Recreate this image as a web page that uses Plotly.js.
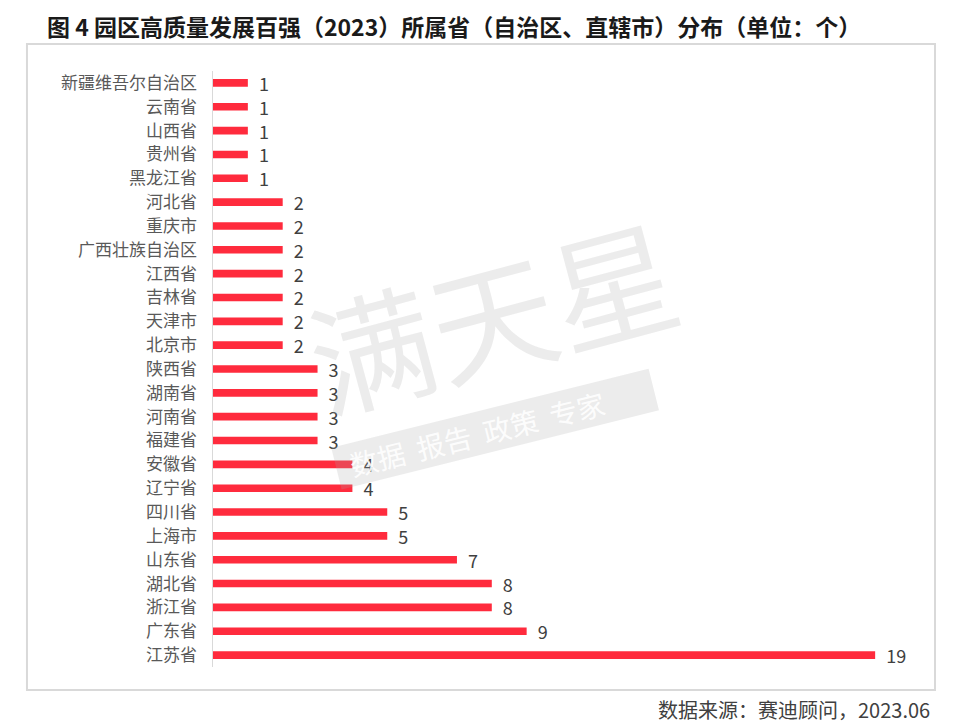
<!DOCTYPE html>
<html>
<head>
<meta charset="utf-8">
<script src="https://cdn.plot.ly/plotly-3.0.1.min.js"></script>
<style>html,body{margin:0;padding:0;background:#fff;}#chart{width:960px;height:725px;}</style>
</head>
<body>
<div id="chart"></div>
<script>
const provinces = ["新疆维吾尔自治区","云南省","山西省","贵州省","黑龙江省","河北省","重庆市","广西壮族自治区","江西省","吉林省","天津市","北京市","陕西省","湖南省","河南省","福建省","安徽省","辽宁省","四川省","上海市","山东省","湖北省","浙江省","广东省","江苏省"];
const counts = [1,1,1,1,1,2,2,2,2,2,2,2,3,3,3,3,4,4,5,5,7,8,8,9,19];
const titleText = "图 4 园区高质量发展百强（2023）所属省（自治区、直辖市）分布（单位：个）";
const sourceText = "数据来源：赛迪顾问，2023.06";

const font = "Noto Sans CJK SC, Noto Sans, sans-serif";

const trace = {
  type: "bar",
  orientation: "h",
  x: counts,
  y: provinces,
  marker: {color: "#FF2B3D"},
  width: 0.32,
  text: counts.map(v => "  " + v),
  textposition: "outside",
  constraintext: "none",
  cliponaxis: false,
  textfont: {family: font, size: 18, color: "#404040"},
  hoverinfo: "skip"
};

const layout = {
  width: 960, height: 725,
  margin: {l: 213, r: 50, t: 71, b: 58},
  paper_bgcolor: "#fff", plot_bgcolor: "rgba(0,0,0,0)",
  showlegend: false,
  title: {text: "<b>" + titleText + "</b>", x: 0.473, xref: "container", xanchor: "center", y: 0.962, yref: "container", yanchor: "middle",
          font: {family: font, size: 23, color: "#1a1a1a"}},
  xaxis: {range: [0, 20], visible: false, fixedrange: true},
  yaxis: {type: "category", autorange: "reversed", showgrid: false, zeroline: false,
          showline: true, linecolor: "#d9d9d9", linewidth: 1.5, ticks: "", ticklen: 0,
          ticklabelstandoff: 11,
          tickfont: {family: font, size: 17, color: "#595959"}},
  shapes: [{type: "rect", xref: "paper", yref: "paper", x0: -0.2669, x1: 1.0359, y0: -0.0386, y1: 1.0453,
            line: {color: "#d9d9d9", width: 2}, fillcolor: "rgba(0,0,0,0)", layer: "below"}],
  annotations: [
    {text: sourceText, xref: "paper", yref: "paper", x: 1.032, y: -0.072, xanchor: "right", yanchor: "middle",
     showarrow: false, font: {family: font, size: 20, color: "#404040"}},
    {text: "满天星", xref: "paper", yref: "paper", x: 0.40, y: 0.595, showarrow: false, textangle: -15,
     font: {family: font, size: 125, color: "rgba(170,170,170,0.22)"}},
    {text: "  数据  报告  政策  专家        ", xref: "paper", yref: "paper", x: 0.405, y: 0.40, showarrow: false, textangle: -14,
     bgcolor: "rgba(170,170,170,0.22)", font: {family: font, size: 28, color: "rgba(255,255,255,0.9)"}}
  ]
};

Plotly.newPlot("chart", [trace], layout, {staticPlot: true, displayModeBar: false});
</script>
</body>
</html>
